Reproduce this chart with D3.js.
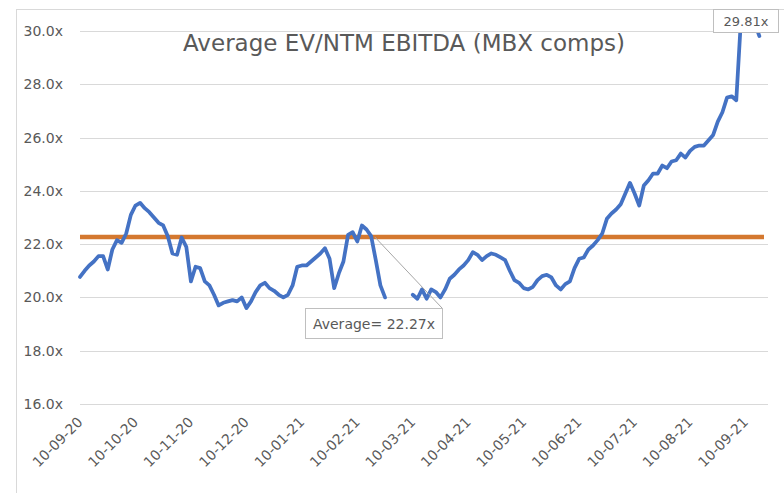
<!DOCTYPE html>
<html>
<head>
<meta charset="utf-8">
<script src="https://cdn.jsdelivr.net/npm/d3@7"></script>
<style>
  body { margin: 0; background: #fff; }
  text { font-family: "DejaVu Sans", sans-serif; fill: #595959; }
</style>
</head>
<body>
<div id="chart"></div>
<script>
// month tick labels (dd-mm-yy), one every 12 points
var monthLabels = ["10-09-20", "10-10-20", "10-11-20", "10-12-20", "10-01-21", "10-02-21",
  "10-03-21", "10-04-21", "10-05-21", "10-06-21", "10-07-21", "10-08-21", "10-09-21"];
var labelEvery = 12;

// average EV/NTM EBITDA multiple (null = no data)
var multiples = [
  20.77, 21.0, 21.2, 21.35, 21.55, 21.55, 21.05, 21.8, 22.15, 22.05,
  22.4, 23.1, 23.45, 23.55, 23.35, 23.2, 23.0, 22.8, 22.7, 22.3,
  21.65, 21.6, 22.25, 21.9, 20.6, 21.15, 21.1, 20.6, 20.45, 20.1,
  19.7, 19.8, 19.85, 19.9, 19.85, 20.0, 19.6, 19.85, 20.2, 20.45,
  20.55, 20.35, 20.25, 20.1, 20.0, 20.1, 20.45, 21.15, 21.2, 21.2,
  21.35, 21.5, 21.65, 21.85, 21.45, 20.35, 20.9, 21.35, 22.35, 22.45,
  22.1, 22.7, 22.55, 22.3, 21.4, 20.45, 20.0, null, null, null,
  null, null, 20.1, 19.95, 20.3, 19.95, 20.3, 20.2, 20.0, 20.3,
  20.7, 20.85, 21.05, 21.2, 21.4, 21.7, 21.6, 21.4, 21.55, 21.65,
  21.6, 21.5, 21.4, 21.0, 20.65, 20.55, 20.35, 20.3, 20.4, 20.65,
  20.8, 20.85, 20.75, 20.45, 20.3, 20.5, 20.6, 21.1, 21.45, 21.5,
  21.8, 21.95, 22.15, 22.4, 22.95, 23.15, 23.3, 23.5, 23.9, 24.3,
  23.9, 23.45, 24.2, 24.4, 24.65, 24.65, 24.95, 24.85, 25.1, 25.15,
  25.4, 25.25, 25.5, 25.65, 25.7, 25.7, 25.9, 26.1, 26.6, 26.95,
  27.5, 27.55, 27.4, 30.4, 30.5, 30.4, 30.3, 29.81
];
var averageMultiple = 22.27;
var yTicks = [16, 18, 20, 22, 24, 26, 28, 30];

var svgWidth = 784;
var svgHeight = 493;

var svg = d3.select("#chart")
    .append("svg")
    .attr("width", svgWidth)
    .attr("height", svgHeight);

// chart frame
svg.append("rect")
    .attr("x", 16.5)
    .attr("y", 9.5)
    .attr("width", 800)
    .attr("height", 500)
    .attr("fill", "none")
    .attr("stroke", "#d9d9d9");

var plotLeft = 80, plotRight = 768;

var xScale = d3.scaleLinear()
    .domain([0, 148])
    .range([plotLeft, 764]);

var yScale = d3.scaleLinear()
    .domain([16, 30])
    .range([404, 31]);

// gridlines
svg.append("g")
    .selectAll("line")
    .data(yTicks)
    .enter()
    .append("line")
    .attr("x1", plotLeft)
    .attr("x2", plotRight)
    .attr("y1", d => Math.round(yScale(d)) + 0.5)
    .attr("y2", d => Math.round(yScale(d)) + 0.5)
    .attr("stroke", "#d9d9d9")
    .attr("stroke-width", 1);

// y axis labels
var yAxis = d3.axisLeft(yScale)
    .tickValues(yTicks)
    .tickSize(0)
    .tickPadding(0)
    .tickFormat(d => d3.format(".1f")(d) + "x");

var yAxisGroup = svg.append("g")
    .attr("transform", "translate(63, 0)")
    .call(yAxis);
yAxisGroup.select(".domain").remove();
yAxisGroup.selectAll("text")
    .attr("font-size", "14px")
    .attr("font-family", "DejaVu Sans")
    .attr("fill", "#6a6a6a");

// x axis labels
var labelIndex = monthLabels.map((d, i) => i * labelEvery);
var xAxis = d3.axisBottom(xScale)
    .tickValues(labelIndex)
    .tickSize(0)
    .tickFormat((d, i) => monthLabels[i]);

var xAxisGroup = svg.append("g")
    .attr("transform", "translate(0, 404)")
    .call(xAxis);
xAxisGroup.select(".domain").remove();
xAxisGroup.selectAll("text")
    .attr("font-size", "14px")
    .attr("font-family", "DejaVu Sans")
    .attr("fill", "#6a6a6a")
    .attr("text-anchor", "end")
    .attr("x", 0)
    .attr("y", 0)
    .attr("dy", 0)
    .attr("transform", "translate(3, 19) rotate(-45)");

// average line
svg.append("line")
    .attr("x1", xScale(0))
    .attr("x2", xScale(148))
    .attr("y1", yScale(averageMultiple))
    .attr("y2", yScale(averageMultiple))
    .attr("stroke", "#d4782f")
    .attr("stroke-width", 4.5);

// multiple line
var line = d3.line()
    .defined(d => d !== null)
    .x((d, i) => xScale(i))
    .y(d => yScale(d));

svg.append("path")
    .datum(multiples)
    .attr("d", line)
    .attr("fill", "none")
    .attr("stroke", "#4472c4")
    .attr("stroke-width", 3.75)
    .attr("stroke-linejoin", "round")
    .attr("stroke-linecap", "round");

// title
svg.append("text")
    .attr("x", 404)
    .attr("y", 51)
    .attr("text-anchor", "middle")
    .attr("font-size", "23px")
    .attr("fill", "#666666")
    .text("Average EV/NTM EBITDA (MBX comps)");

// callout for the average
var avgX = xScale(64) - 1, avgY = yScale(averageMultiple);
svg.append("line")
    .attr("x1", avgX)
    .attr("y1", avgY)
    .attr("x2", 442)
    .attr("y2", 308)
    .attr("stroke", "#a6a6a6")
    .attr("stroke-width", 1);

svg.append("rect")
    .attr("x", 305.5)
    .attr("y", 308.5)
    .attr("width", 137)
    .attr("height", 30)
    .attr("fill", "#fff")
    .attr("stroke", "#bfbfbf");

svg.append("text")
    .attr("x", 374)
    .attr("y", 329)
    .attr("text-anchor", "middle")
    .attr("font-size", "14px")
    .attr("fill", "#6a6a6a")
    .text("Average= " + averageMultiple.toFixed(2) + "x");

// data label on the last point
var lastValue = multiples[multiples.length - 1];
svg.append("rect")
    .attr("x", 713.5)
    .attr("y", 9.5)
    .attr("width", 65)
    .attr("height", 23)
    .attr("fill", "#fff")
    .attr("stroke", "#bfbfbf");

svg.append("text")
    .attr("x", 746)
    .attr("y", 26)
    .attr("text-anchor", "middle")
    .attr("font-size", "13px")
    .attr("fill", "#6a6a6a")
    .text(lastValue.toFixed(2) + "x");
</script>
</body>
</html>
